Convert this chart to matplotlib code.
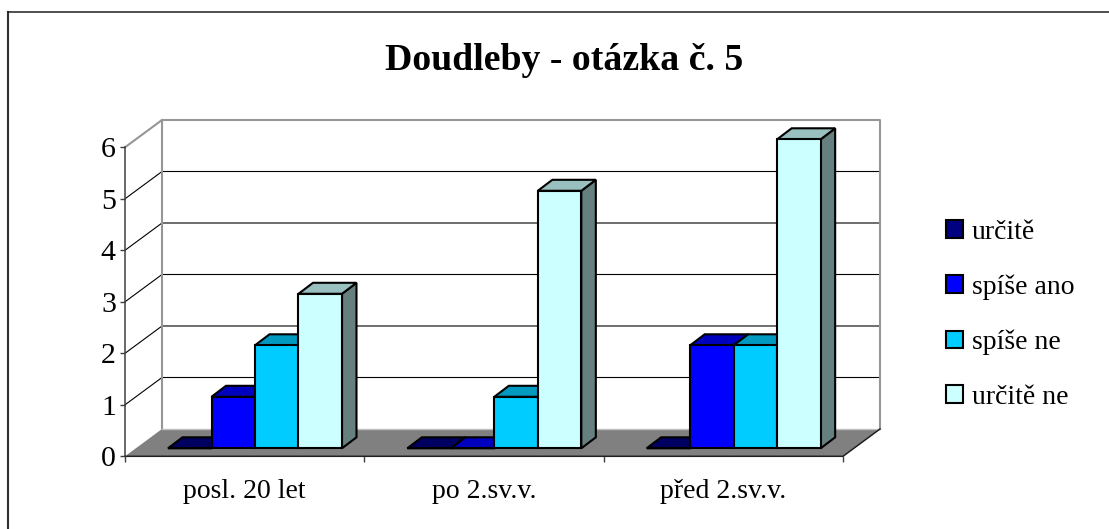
import matplotlib

matplotlib.use("Agg")

import matplotlib.pyplot as plt
from matplotlib.lines import Line2D
from matplotlib.patches import Patch, Polygon

plt.rcParams["font.family"] = ["Liberation Serif", "DejaVu Serif"]

categories = ["posl. 20 let", "po 2.sv.v.", "před 2.sv.v."]
series_names = ["určitě", "spíše ano", "spíše ne", "určitě ne"]
urcite = [0, 0, 0]
spise_ano = [1, 0, 2]
spise_ne = [2, 1, 2]
urcite_ne = [3, 5, 6]
series_values = [urcite, spise_ano, spise_ne, urcite_ne]

front_colors = ["#000080", "#0000FF", "#00CCFF", "#CCFFFF"]
top_colors = ["#000060", "#0000BF", "#0099BF", "#99BFBF"]
side_colors = ["#000040", "#000080", "#006680", "#668080"]

W, H = 1109, 529
fig = plt.figure(figsize=(W / 100, H / 100), dpi=100)
ax = fig.add_axes([125 / W, (H - 456.3) / H, 718 / W, 309 / H])
ax.set_xlim(0, 3)
ax.set_ylim(0, 6)
for name, spine in ax.spines.items():
    spine.set_visible(name == "left")
ax.spines["left"].set_color("#404040")
ax.spines["left"].set_linewidth(1.1)
ax.patch.set_visible(False)

# pixel sizes of the fake 3d, turned into data units
ux = 3 / 718
uy = 6 / 309
wall_dx, wall_dy = 37 * ux, 27.3 * uy
bar_dx, bar_dy = 11 * ux, 8 * uy
depth_dx, depth_dy = 14.5 * ux, 11 * uy
bar_w = 43.5 * ux
gap = 32 * ux

# floor and walls
ax.add_patch(Polygon([(0, 0), (3, 0), (3 + wall_dx, wall_dy), (wall_dx, wall_dy)],
                     closed=True, fc="#808080", ec="none", clip_on=False, zorder=1))
for v in range(1, 6):
    ax.plot([0, wall_dx, 3 + wall_dx], [v, v + wall_dy, v + wall_dy], color="black",
            lw=0.8, clip_on=False, zorder=1)
ax.plot([0, wall_dx, 3 + wall_dx, 3 + wall_dx], [6, 6 + wall_dy, 6 + wall_dy, wall_dy],
        color="#969696", lw=1.5, clip_on=False, zorder=1.5)
ax.plot([wall_dx, wall_dx], [wall_dy, 6 + wall_dy], color="#969696", lw=1.5, clip_on=False, zorder=1.5)
ax.plot([wall_dx, 3 + wall_dx], [wall_dy, wall_dy], color="#C0C0C0", lw=1, clip_on=False, zorder=1.5)
ax.plot([0, 3, 3 + wall_dx], [0, 0, wall_dy], color="#202020", lw=1.1, clip_on=False, zorder=1.6)

# bars, left to right so each one hides the side of the previous one
z = 2
for g in range(len(categories)):
    for s, values in enumerate(series_values):
        v = values[g]
        x0 = g + gap + s * bar_w + bar_dx
        x1 = x0 + bar_w
        y0 = bar_dy
        y1 = y0 + v
        ax.add_patch(Polygon([(x1, y0), (x1 + depth_dx, y0 + depth_dy),
                              (x1 + depth_dx, y1 + depth_dy), (x1, y1)],
                             closed=True, fc=side_colors[s], ec="black", lw=1.5, clip_on=False, zorder=z))
        ax.add_patch(Polygon([(x0, y1), (x1, y1), (x1 + depth_dx, y1 + depth_dy),
                              (x0 + depth_dx, y1 + depth_dy)],
                             closed=True, fc=top_colors[s], ec="black", lw=1.5, clip_on=False, zorder=z))
        ax.bar(x0, v, bar_w, bottom=y0, align="edge", color=front_colors[s], edgecolor="black",
               linewidth=1.5, clip_on=False, zorder=z)
        z += 0.1

ax.set_yticks(range(7))
ax.tick_params(axis="y", length=3.6, width=1, color="#404040", labelsize=21.5, pad=3)
ax.set_xticks(range(4))
ax.set_xticks([0.5, 1.5, 2.5], minor=True)
ax.set_xticklabels([])
ax.set_xticklabels(categories, minor=True)
ax.tick_params(axis="x", which="major", length=4.3, width=1, color="#404040")
ax.tick_params(axis="x", which="minor", length=0, labelsize=20, pad=16)

fig.text(564 / W, (H - 60) / H, "Doudleby - otázka č. 5", fontsize=27.2, fontweight="bold",
         ha="center", va="center")

handles = [Patch(facecolor=c, edgecolor="black", linewidth=1.5) for c in front_colors]
fig.legend(handles, series_names, loc="center left", bbox_to_anchor=(946 / W, (H - 315) / H),
           frameon=False, fontsize=20, handlelength=0.61, handleheight=0.61, handletextpad=0.32,
           labelspacing=1.07, borderpad=0, borderaxespad=0)

# chart frame: only the top and left edges fall inside the image
fig.add_artist(Line2D([8 / W, 8 / W], [0, (H - 12) / H], transform=fig.transFigure, color="#303030", lw=1.5))
fig.add_artist(Line2D([8 / W, 1], [(H - 12) / H, (H - 12) / H], transform=fig.transFigure, color="#202020", lw=1.1))

fig.savefig("out.png", dpi=100)
